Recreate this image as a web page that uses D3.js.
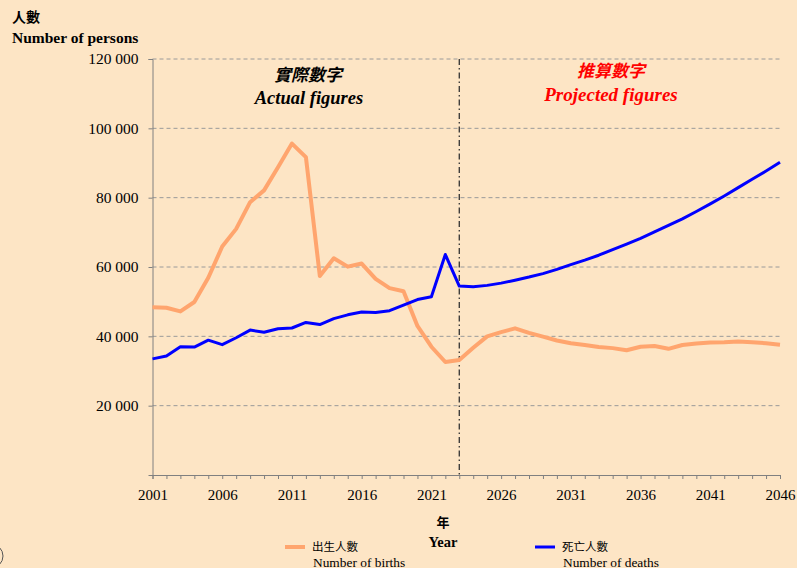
<!DOCTYPE html>
<html>
<head>
<meta charset="utf-8">
<script src="https://cdn.jsdelivr.net/npm/d3@7"></script>
<style>
  body { margin: 0; background: #fde5c5; }
  svg { display: block; }
  text { font-family: "Liberation Serif", "Times New Roman", serif; fill: #000; }
  .cjk { font-family: "Noto Sans CJK TC", "Noto Sans CJK SC", sans-serif; }
</style>
</head>
<body>
<div id="chart"></div>
<script>
'use strict';

// births / deaths, actual to 2023 then projected
var years = d3.range(2001, 2047);
var births = [48400, 48250, 47200, 49900, 56900, 65900, 71000, 78700, 82100, 88800,
  95600, 91700, 57400, 62500, 60100, 61000, 56600, 53900, 53000, 43000,
  37000, 32600, 33200, 36700, 40000, 41200, 42300, 41000, 39900, 38800,
  38000, 37500, 36900, 36600, 36000, 37000, 37200, 36400, 37500, 37900,
  38200, 38300, 38500, 38300, 38000, 37600];
var deaths = [33500, 34300, 37000, 36900, 38900, 37600, 39600, 41800, 41200, 42200,
  42400, 44000, 43400, 45100, 46200, 47000, 46900, 47400, 49000, 50600,
  51400, 63600, 54500, 54300, 54700, 55350, 56200, 57100, 58100, 59300,
  60700, 62000, 63400, 65000, 66600, 68250, 70100, 72000, 73900, 76000,
  78200, 80500, 82900, 85300, 87700, 90200];
var yTicks = [0, 20000, 40000, 60000, 80000, 100000, 120000];
var xLabels = [2001, 2006, 2011, 2016, 2021, 2026, 2031, 2036, 2041, 2046];
var splitYear = 2023;

var width = 797, height = 568;
var svg = d3.select('#chart').append('svg')
  .attr('width', width)
  .attr('height', height);

var x = d3.scaleLinear().domain([2001, 2046]).range([152.5, 780]);
var y = d3.scaleLinear().domain([0, 120000]).range([475, 59]);
var fmt = function(d) { return d3.format(',')(d).replace(/,/g, ' '); };

// grid
svg.append('g').selectAll('line')
  .data(yTicks.filter(function(d) { return d > 0; }))
  .enter().append('line')
  .attr('x1', x(2001)).attr('x2', x(2046))
  .attr('y1', function(d) { return y(d); })
  .attr('y2', function(d) { return y(d); })
  .attr('stroke', '#9a9a9a')
  .attr('stroke-dasharray', '4,3');

// y axis
var yAxis = svg.append('g')
  .attr('transform', 'translate(' + x(2001) + ',0)')
  .call(d3.axisLeft(y).tickValues(yTicks.filter(function(d) { return d > 0; }))
    .tickFormat(fmt).tickSize(4).tickPadding(10));
yAxis.selectAll('text').style('font-size', '15.5px');

// x axis
var xAxis = svg.append('g')
  .attr('transform', 'translate(0,' + y(0) + ')')
  .call(d3.axisBottom(x).tickValues(years).tickSize(4).tickPadding(10)
    .tickFormat(function(d) { return xLabels.indexOf(d) >= 0 ? d : ''; }));
xAxis.selectAll('text').style('font-size', '15px');

[yAxis, xAxis].forEach(function(a) {
  a.select('.domain').attr('stroke', '#808080');
  a.selectAll('.tick line').attr('stroke', '#808080');
  a.selectAll('text').style('font-family', '"Liberation Serif", serif');
});

// actual / projected divider
svg.append('line')
  .attr('x1', x(splitYear)).attr('x2', x(splitYear))
  .attr('y1', y(120000)).attr('y2', y(0))
  .attr('stroke', '#333')
  .attr('stroke-width', 1.3)
  .attr('stroke-dasharray', '6,3,1.5,3');

var line = function(vals) {
  return d3.line()
    .x(function(d, i) { return x(years[i]); })
    .y(function(d) { return y(d); })(vals);
};

svg.append('path').attr('d', line(births))
  .attr('fill', 'none').attr('stroke', '#ffa56e').attr('stroke-width', 4)
  .attr('stroke-linejoin', 'round');
svg.append('path').attr('d', line(deaths))
  .attr('fill', 'none').attr('stroke', '#0000ff').attr('stroke-width', 3)
  .attr('stroke-linejoin', 'round');

// region titles
svg.append('text').attr('class', 'cjk').attr('x', 308).attr('y', 81)
  .attr('text-anchor', 'middle').style('font-size', '17px')
  .style('font-weight', 'bold').style('font-style', 'italic').text('實際數字');
svg.append('text').attr('x', 309).attr('y', 104)
  .attr('text-anchor', 'middle').style('font-size', '18.5px')
  .style('font-weight', 'bold').style('font-style', 'italic').text('Actual figures');
svg.append('text').attr('class', 'cjk').attr('x', 611).attr('y', 77)
  .attr('text-anchor', 'middle').style('font-size', '17px').style('fill', '#ff0000')
  .style('font-weight', 'bold').style('font-style', 'italic').text('推算數字');
svg.append('text').attr('x', 611).attr('y', 101)
  .attr('text-anchor', 'middle').style('font-size', '19px').style('fill', '#ff0000')
  .style('font-weight', 'bold').style('font-style', 'italic').text('Projected figures');

// axis titles
svg.append('text').attr('class', 'cjk').attr('x', 12).attr('y', 22)
  .style('font-size', '14px').style('font-weight', 'bold').text('人數');
svg.append('text').attr('x', 12).attr('y', 43)
  .style('font-size', '15.5px').style('font-weight', 'bold').text('Number of persons');
svg.append('text').attr('class', 'cjk').attr('x', 443).attr('y', 527)
  .attr('text-anchor', 'middle').style('font-size', '13px').style('font-weight', 'bold').text('年');
svg.append('text').attr('x', 443).attr('y', 547)
  .attr('text-anchor', 'middle').style('font-size', '14.5px').style('font-weight', 'bold').text('Year');

// legend
var legend = [
  { zh: '出生人數', en: 'Number of births', color: '#ffa56e', w: 4, x: 285 },
  { zh: '死亡人數', en: 'Number of deaths', color: '#0000ff', w: 3, x: 535 }
];
var lg = svg.selectAll('.lg').data(legend).enter().append('g')
  .attr('transform', function(d) { return 'translate(' + d.x + ',547)'; });
lg.append('line').attr('x1', 0).attr('x2', 20)
  .attr('stroke', function(d) { return d.color; })
  .attr('stroke-width', function(d) { return d.w; });
lg.append('text').attr('class', 'cjk').attr('x', 27).attr('y', 4)
  .style('font-size', '11.5px').text(function(d) { return d.zh; });
lg.append('text').attr('x', 28).attr('y', 20)
  .style('font-size', '13.4px').text(function(d) { return d.en; });

// stray arc at the left edge
svg.append('circle').attr('cx', -9).attr('cy', 556).attr('r', 12)
  .attr('fill', 'none').attr('stroke', '#555').attr('stroke-width', 1);
</script>
</body>
</html>
